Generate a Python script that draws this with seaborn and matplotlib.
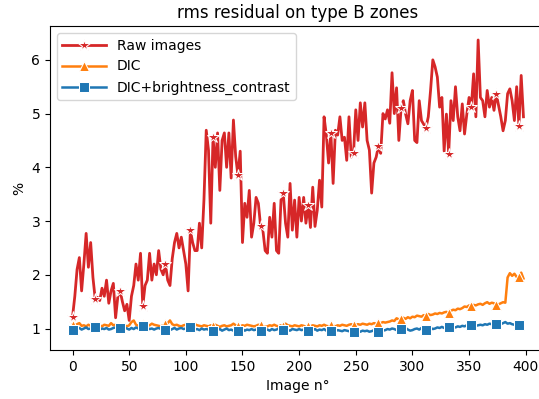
import numpy as np
import matplotlib
matplotlib.use("Agg")
import matplotlib.pyplot as plt
import seaborn as sns

# image numbers (every 2nd image)
image_no = np.arange(0, 400, 2)

raw_images = [
    1.22, 1.60, 2.10, 2.32, 1.70, 2.20, 2.77, 2.14, 2.60, 1.95,
    1.55, 1.58, 1.52, 1.75, 1.60, 1.90, 1.47, 1.70, 1.84, 1.20,
    1.60, 1.70, 1.50, 1.33, 1.45, 1.15, 1.60, 1.80, 2.20, 1.90,
    2.40, 1.42, 1.80, 1.90, 2.40, 1.90, 2.20, 2.00, 2.45, 2.10,
    2.00, 2.20, 1.90, 1.80, 2.30, 2.60, 2.77, 2.50, 2.70, 2.45,
    2.20, 1.70, 2.83, 2.60, 2.45, 2.45, 2.96, 2.50, 3.40, 4.69,
    4.32, 2.96, 4.56, 4.00, 4.64, 3.57, 4.50, 4.64, 4.00, 4.64,
    3.80, 4.88, 4.20, 3.85, 4.30, 2.60, 3.33, 3.07, 3.57, 2.70,
    2.96, 3.44, 3.33, 2.90, 2.83, 2.45, 2.40, 3.07, 2.70, 3.33,
    2.45, 2.40, 3.39, 3.52, 2.96, 2.70, 3.70, 2.83, 3.39, 2.70,
    3.44, 3.00, 3.44, 2.96, 3.30, 2.88, 3.63, 2.90, 3.20, 3.76,
    3.26, 4.94, 4.60, 4.08, 4.64, 3.70, 4.69, 4.60, 4.94, 4.50,
    4.56, 4.13, 4.94, 4.19, 4.26, 5.07, 4.50, 5.20, 4.75, 5.20,
    4.50, 4.32, 3.52, 4.08, 4.19, 4.40, 4.26, 5.00, 4.90, 5.07,
    4.82, 5.76, 5.00, 5.48, 4.50, 5.10, 5.24, 4.99, 4.81, 5.24,
    5.43, 4.50, 4.46, 5.24, 4.87, 4.80, 4.74, 4.94, 5.43, 6.00,
    5.87, 5.68, 5.12, 5.30, 4.30, 4.99, 4.25, 5.24, 4.87, 5.50,
    4.94, 4.68, 5.18, 4.62, 4.99, 5.30, 5.12, 5.74, 4.94, 6.37,
    5.30, 5.24, 4.94, 5.43, 5.12, 5.30, 5.06, 5.37, 5.15, 4.94,
    4.68, 4.87, 5.37, 5.46, 5.24, 4.87, 5.50, 4.77, 5.71, 4.94,
]

dic = [
    1.07, 1.06, 1.08, 1.10, 1.05, 1.06, 1.04, 1.07, 1.05, 1.06,
    1.05, 1.08, 1.06, 1.04, 1.07, 1.06, 1.05, 1.10, 1.06, 1.07,
    1.06, 1.05, 1.08, 1.06, 1.04, 1.06, 1.12, 1.15, 1.07, 1.05,
    1.06, 1.08, 1.07, 1.05, 1.06, 1.09, 1.07, 1.06, 1.05, 1.04,
    1.06, 1.08, 1.10, 1.15, 1.08, 1.06, 1.07, 1.05, 1.04, 1.06,
    1.07, 1.06, 1.05, 1.07, 1.08, 1.06, 1.05, 1.04, 1.06, 1.05,
    1.04, 1.06, 1.05, 1.07, 1.05, 1.03, 1.05, 1.06, 1.04, 1.05,
    1.06, 1.09, 1.06, 1.05, 1.04, 1.06, 1.05, 1.07, 1.06, 1.05,
    1.04, 1.05, 1.07, 1.06, 1.05, 1.03, 1.04, 1.06, 1.05, 1.07,
    1.05, 1.04, 1.06, 1.05, 1.09, 1.06, 1.05, 1.04, 1.06, 1.05,
    1.04, 1.06, 1.05, 1.03, 1.05, 1.04, 1.06, 1.05, 1.04, 1.06,
    1.05, 1.07, 1.05, 1.04, 1.06, 1.05, 1.04, 1.06, 1.05, 1.07,
    1.06, 1.05, 1.07, 1.08, 1.06, 1.07, 1.08, 1.07, 1.09, 1.08,
    1.07, 1.09, 1.08, 1.10, 1.09, 1.11, 1.10, 1.12, 1.11, 1.12,
    1.13, 1.15, 1.14, 1.19, 1.17, 1.18, 1.20, 1.18, 1.21, 1.19,
    1.22, 1.21, 1.24, 1.23, 1.22, 1.25, 1.24, 1.27, 1.25, 1.26,
    1.28, 1.27, 1.29, 1.28, 1.30, 1.31, 1.29, 1.33, 1.35, 1.34,
    1.37, 1.36, 1.38, 1.41, 1.40, 1.43, 1.42, 1.44, 1.43, 1.45,
    1.46, 1.44, 1.47, 1.49, 1.46, 1.48, 1.47, 1.43, 1.45, 1.47,
    1.49, 1.48, 1.95, 2.03, 1.98, 2.02, 1.96, 1.95, 2.04, 1.93,
]

dic_bc = [
    0.98, 1.00, 0.99, 1.01, 0.98, 1.00, 1.02, 0.99, 1.00, 1.01,
    1.03, 1.00, 0.98, 1.00, 0.99, 1.01, 0.98, 0.99, 1.01, 1.02,
    1.00, 1.01, 0.99, 1.02, 1.00, 0.98, 1.01, 0.99, 1.02, 1.00,
    1.02, 1.04, 1.03, 1.01, 0.99, 1.00, 0.98, 1.00, 1.01, 0.99,
    0.99, 0.98, 1.00, 0.97, 0.99, 1.01, 0.98, 1.00, 1.01, 0.99,
    1.00, 1.01, 1.02, 1.00, 0.98, 0.99, 0.97, 1.00, 0.98, 0.99,
    0.98, 0.97, 0.96, 0.98, 0.97, 0.99, 0.96, 0.98, 1.00, 0.97,
    0.98, 0.96, 0.97, 0.95, 0.97, 0.99, 0.96, 0.98, 0.97, 0.99,
    0.97, 0.98, 0.96, 0.95, 0.97, 0.99, 0.98, 0.96, 0.99, 0.97,
    0.98, 1.00, 0.97, 0.98, 0.99, 0.97, 0.96, 0.99, 0.98, 0.97,
    0.99, 0.97, 0.98, 0.96, 0.96, 0.98, 0.97, 0.99, 0.96, 0.98,
    0.97, 0.99, 0.96, 0.97, 0.96, 0.98, 0.95, 0.97, 0.96, 0.95,
    0.97, 0.96, 0.95, 0.94, 0.93, 0.95, 0.96, 0.94, 0.96, 0.95,
    0.96, 0.94, 0.95, 0.97, 0.95, 0.93, 0.95, 0.96, 0.97, 0.99,
    0.98, 1.00, 0.99, 0.97, 1.00, 1.00, 0.99, 1.01, 0.98, 0.96,
    0.97, 0.99, 1.00, 0.98, 1.01, 0.99, 0.98, 1.00, 1.01, 0.99,
    1.00, 1.02, 1.01, 1.03, 1.01, 1.02, 1.02, 1.04, 1.03, 1.02,
    1.04, 1.03, 1.05, 1.04, 1.06, 1.05, 1.06, 1.07, 1.05, 1.06,
    1.07, 1.06, 1.08, 1.07, 1.09, 1.08, 1.07, 1.09, 1.10, 1.08,
    1.10, 1.12, 1.09, 1.10, 1.08, 1.07, 1.09, 1.06, 1.07, 1.08,
]

# 20 markers spread along each curve
marks = list(np.linspace(0, len(image_no) - 3, 20).round().astype(int))

fig = plt.figure(figsize=(5.39, 3.99), dpi=100)
ax = fig.add_axes([50 / 539, 49 / 399, 496 / 539, 324 / 399])

sns.lineplot(x=image_no, y=raw_images, ax=ax, color="tab:red", marker="*",
             markersize=9, markevery=marks, linewidth=2, label="Raw images")
sns.lineplot(x=image_no, y=dic, ax=ax, color="tab:orange", marker="^",
             markersize=7.5, markevery=marks, linewidth=1.8, label="DIC")
sns.lineplot(x=image_no, y=dic_bc, ax=ax, color="tab:blue", marker="s",
             markersize=7, markevery=marks, linewidth=1.8,
             label="DIC+brightness_contrast")

ax.set_ylim(0.6, 6.63)
ax.set_title("rms residual on type B zones", fontsize=12)
ax.set_xlabel("Image n°", fontsize=10)
ax.set_ylabel("%", fontsize=10)
ax.tick_params(labelsize=10)
ax.legend(loc="upper left", fontsize=10, handlelength=3.1)

fig.savefig("out.png", dpi=100)
